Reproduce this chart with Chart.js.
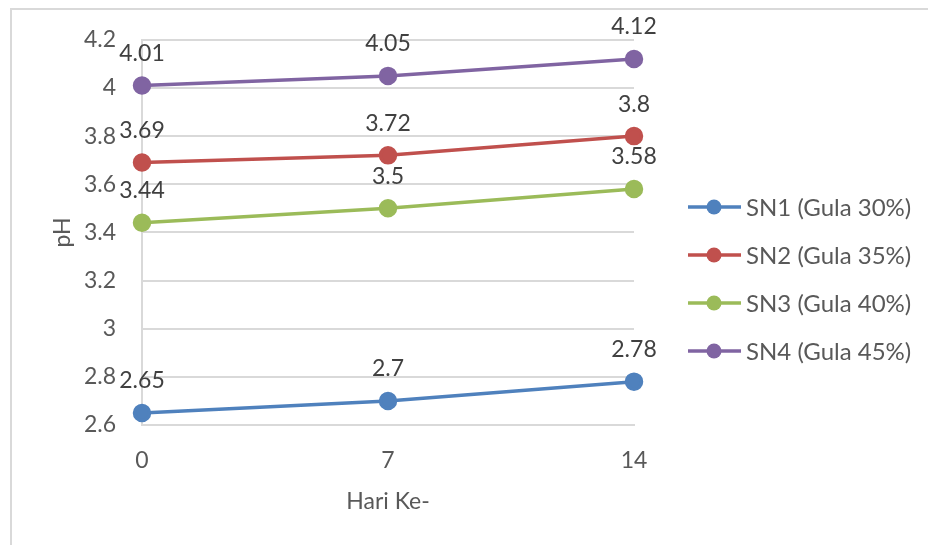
<!DOCTYPE html>
<html>
<head>
<meta charset="utf-8">
<script src="https://cdn.jsdelivr.net/npm/chart.js@4.4.1/dist/chart.umd.min.js"></script>
<style>
  html, body { margin: 0; padding: 0; background: #ffffff; overflow: hidden; }
  #wrap { position: relative; width: 928px; height: 545px; overflow: hidden; }
  #frame { position: absolute; left: 10px; top: 8px; width: 1000px; height: 700px; border: 2px solid #d9d9d9; box-sizing: border-box; }
  canvas { position: absolute; left: 0; top: 0; }
</style>
</head>
<body>
<div id="wrap">
  <div id="frame"></div>
  <canvas id="c" width="928" height="545"></canvas>
</div>
<script>
const categories = ['0', '7', '14'];
const seriesNames = ['SN1 (Gula 30%)', 'SN2 (Gula 35%)', 'SN3 (Gula 40%)', 'SN4 (Gula 45%)'];
const sn1 = [2.65, 2.7, 2.78];
const sn2 = [3.69, 3.72, 3.8];
const sn3 = [3.44, 3.5, 3.58];
const sn4 = [4.01, 4.05, 4.12];
const colors = ['#4f81bd', '#c0504d', '#9bbb59', '#8064a2'];
const yMin = 2.6, yMax = 4.2, yStep = 0.2;
const xTitle = 'Hari Ke-';
const yTitle = 'pH';

const FONT = 'Lato, "Open Sans", sans-serif';
const seriesValues = [sn1, sn2, sn3, sn4];

const datasets = seriesValues.map((vals, i) => ({
  label: seriesNames[i],
  data: vals,
  borderColor: colors[i],
  backgroundColor: colors[i],
  pointBackgroundColor: colors[i],
  pointBorderColor: colors[i],
  borderWidth: 3.5,
  pointRadius: 7.5,
  pointHoverRadius: 7.5,
  tension: 0,
  fill: false
}));

const dataLabels = {
  id: 'dataLabels',
  afterDatasetsDraw(chart) {
    const ctx = chart.ctx;
    ctx.save();
    ctx.font = '23px ' + FONT;
    ctx.fillStyle = '#404040';
    ctx.textAlign = 'center';
    ctx.textBaseline = 'middle';
    chart.data.datasets.forEach((ds, i) => {
      const meta = chart.getDatasetMeta(i);
      meta.data.forEach((pt, j) => {
        ctx.fillText(String(ds.data[j]), pt.x, pt.y - 32);
      });
    });
    ctx.restore();
  }
};

const customLegend = {
  id: 'customLegend',
  afterDraw(chart) {
    const ctx = chart.ctx;
    ctx.save();
    ctx.font = '24px ' + FONT;
    ctx.textAlign = 'left';
    ctx.textBaseline = 'middle';
    chart.data.datasets.forEach((ds, i) => {
      const y = 207 + 48 * i;
      ctx.strokeStyle = ds.borderColor;
      ctx.lineWidth = 3.5;
      ctx.beginPath();
      ctx.moveTo(688, y);
      ctx.lineTo(741, y);
      ctx.stroke();
      ctx.fillStyle = ds.borderColor;
      ctx.beginPath();
      ctx.arc(714, y, 7.5, 0, Math.PI * 2);
      ctx.fill();
      ctx.fillStyle = '#595959';
      ctx.fillText(ds.label, 746, y + 1);
    });
    ctx.restore();
  }
};

new Chart(document.getElementById('c'), {
  type: 'line',
  data: { labels: categories, datasets },
  options: {
    responsive: false,
    animation: false,
    devicePixelRatio: 1,
    layout: { padding: { left: 0, top: 37, right: 294, bottom: 0 } },
    plugins: {
      legend: { display: false },
      tooltip: { enabled: false }
    },
    scales: {
      x: {
        offset: false,
        grid: { display: false, drawTicks: false },
        border: { display: true, color: '#d9d9d9', width: 2 },
        ticks: { color: '#595959', font: { family: FONT, size: 23 }, padding: 22, maxRotation: 0 },
        title: { display: true, text: xTitle, color: '#595959', font: { family: FONT, size: 23 }, padding: { top: 0, bottom: 30 } },
        afterFit(scale) { scale.height = 120; }
      },
      y: {
        min: yMin,
        max: yMax,
        grid: { color: '#d9d9d9', lineWidth: 2, drawTicks: false },
        border: { display: true, color: '#d9d9d9', width: 2 },
        ticks: {
          stepSize: yStep,
          color: '#595959',
          font: { family: FONT, size: 23 },
          padding: 26,
          callback: (v) => String(Number(Number(v).toFixed(1)))
        },
        title: { display: true, text: yTitle, color: '#595959', font: { family: FONT, size: 23 }, padding: { top: 49, bottom: 0 } },
        afterFit(scale) { scale.width = 142; }
      }
    }
  },
  plugins: [dataLabels, customLegend]
});
</script>
</body>
</html>
